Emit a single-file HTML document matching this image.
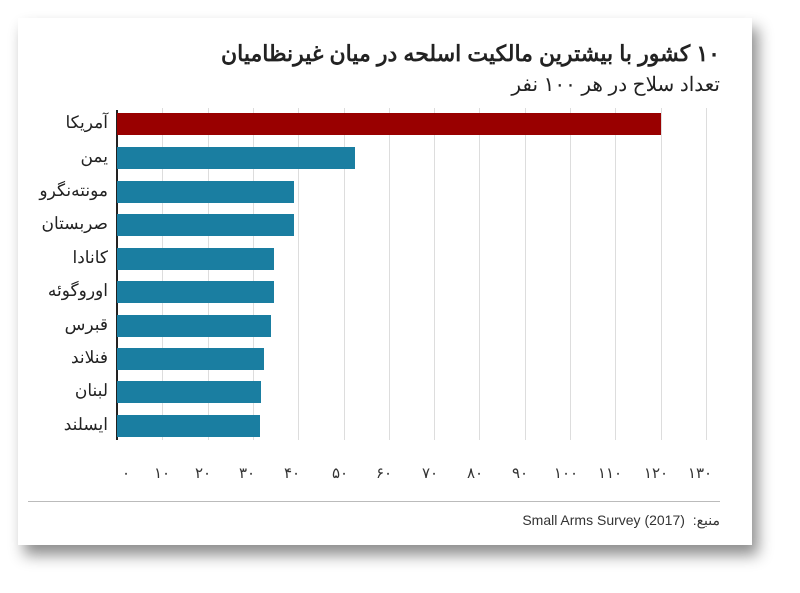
<!DOCTYPE html>
<html><head><meta charset="utf-8"><style>
body{margin:0;width:800px;height:593px;background:#fff;position:relative;overflow:hidden;font-family:"Liberation Sans","Noto Sans CJK SC",sans-serif}
.card{position:absolute;left:18px;top:18px;width:734px;height:527px;background:#fff;box-shadow:6px 10px 14px rgba(0,0,0,.45)}
.t{position:absolute;right:80px;white-space:nowrap;direction:rtl;color:#222}
.g{position:absolute;top:108px;height:332px;width:1px;background:#ddd}
.bar{position:absolute;left:117px;height:22px;background:#1a7ea1}
.lab{position:absolute;right:692px;font-size:17px;direction:rtl;color:#222;white-space:nowrap}
.tk{position:absolute;top:464px;font-size:15px;color:#333;transform:translateX(-50%)}
</style></head><body>
<div class="card"></div>
<div class="t" style="top:41px;font-size:22px;font-weight:bold">۱۰ کشور با بیشترین مالکیت اسلحه در میان غیرنظامیان</div>
<div class="t" style="top:72px;font-size:20px">تعداد سلاح در هر ۱۰۰ نفر</div>
<div id="grid"></div>
<div style="position:absolute;left:116px;top:110px;width:2px;height:330px;background:#222"></div>
<div class="bar" style="top:113px;width:544px;background:#990000"></div>
<div class="bar" style="top:147px;width:238px"></div>
<div class="bar" style="top:181px;width:177px"></div>
<div class="bar" style="top:214px;width:177px"></div>
<div class="bar" style="top:248px;width:157px"></div>
<div class="bar" style="top:281px;width:157px"></div>
<div class="bar" style="top:315px;width:154px"></div>
<div class="bar" style="top:348px;width:147px"></div>
<div class="bar" style="top:381px;width:144px"></div>
<div class="bar" style="top:415px;width:143px"></div>
<div class="lab" style="top:113px">آمریکا</div>
<div class="lab" style="top:147px">یمن</div>
<div class="lab" style="top:181px">مونته‌نگرو</div>
<div class="lab" style="top:214px">صربستان</div>
<div class="lab" style="top:248px">کانادا</div>
<div class="lab" style="top:281px">اوروگوئه</div>
<div class="lab" style="top:315px">قبرس</div>
<div class="lab" style="top:348px">فنلاند</div>
<div class="lab" style="top:381px">لبنان</div>
<div class="lab" style="top:415px">ایسلند</div>
<div style="position:absolute;left:28px;top:501px;width:692px;height:1px;background:#bbb"></div>
<div style="position:absolute;right:80px;top:512px;font-size:14px;color:#333;white-space:nowrap">Small Arms Survey (2017) &nbsp;<span style="direction:rtl">:منبع</span></div>
<script>
var xs=[126,162,203,247,292,340,384,430,475,520,566,610,656,700];
var d='۰۱۲۳۴۵۶۷۸۹';
var h='';
for(var i=0;i<14;i++){
 var v=i*10,s=(v+'').split('').map(function(c){return d[+c]}).join('');
 if(i>0)h+='<div class="g" style="left:'+(117+4.53*v)+'px"></div>';
 h+='<div class="tk" style="left:'+xs[i]+'px">'+s+'</div>';
}
document.getElementById('grid').innerHTML=h;
</script>
</body></html>
